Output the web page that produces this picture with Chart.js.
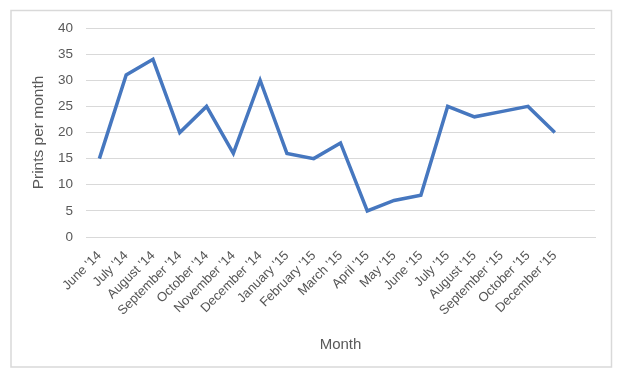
<!DOCTYPE html>
<html>
<head>
<meta charset="utf-8">
<script src="https://cdn.jsdelivr.net/npm/chart.js@4/dist/chart.umd.min.js"></script>
<style>
html,body{margin:0;padding:0;background:#fff;}
#wrap{width:622px;height:381px;position:relative;}
</style>
</head>
<body>
<div id="wrap"><canvas id="c" width="622" height="381"></canvas></div>
<script>
const months = ["June '14","July '14","August '14","September '14","October '14","November '14","December '14","January '15","February '15","March '15","April '15","May '15","June '15","July '15","August '15","September '15","October '15","December '15",""];
const prints = [15,31,34,20,25,16,30,16,15,18,5,7,8,25,23,24,25,20,null];
const yTicks = [0,5,10,15,20,25,30,35,40];

const frame = {
  id:'frame',
  beforeDraw(chart){
    const ctx = chart.ctx;
    ctx.save();
    ctx.fillStyle='#fff';
    ctx.fillRect(0,0,chart.width,chart.height);
    ctx.strokeStyle='#d9d9d9';
    ctx.lineWidth=1.5;
    ctx.strokeRect(11,10.5,600.5,356.5);
    ctx.restore();
  }
};

new Chart(document.getElementById('c'),{
  type:'line',
  data:{labels:months,datasets:[{data:prints,borderColor:'#4677bf',borderWidth:3.5,pointRadius:0,tension:0,fill:false,spanGaps:false}]},
  options:{
    responsive:false,animation:false,
    layout:{padding:{left:0,right:27,top:28,bottom:14}},
    plugins:{legend:{display:false},tooltip:{enabled:false}},
    scales:{
      x:{
        offset:true,
        grid:{display:false,drawTicks:false},
        border:{display:true,color:'#d9d9d9',width:1},
        ticks:{autoSkip:false,maxRotation:45,minRotation:45,padding:11,color:'#555555',font:{family:'Liberation Sans',size:13}},
        title:{display:true,text:'Month',color:'#595959',font:{family:'Liberation Sans',size:15},padding:{top:0,bottom:13}},
        afterFit(s){s.height=381-14-237;}
      },
      y:{
        min:0,max:40,
        afterBuildTicks(s){s.ticks=yTicks.map(v=>({value:v}));},
        grid:{color:'#d9d9d9',lineWidth:1,drawTicks:false},
        border:{display:false},
        ticks:{padding:13,color:'#595959',font:{family:'Liberation Sans',size:13.5}},
        title:{display:true,text:'Prints per month',color:'#595959',font:{family:'Liberation Sans',size:15.5},padding:{top:29,bottom:0}},
        afterFit(s){s.width=86;}
      }
    }
  },
  plugins:[frame]
});
</script>
</body>
</html>
